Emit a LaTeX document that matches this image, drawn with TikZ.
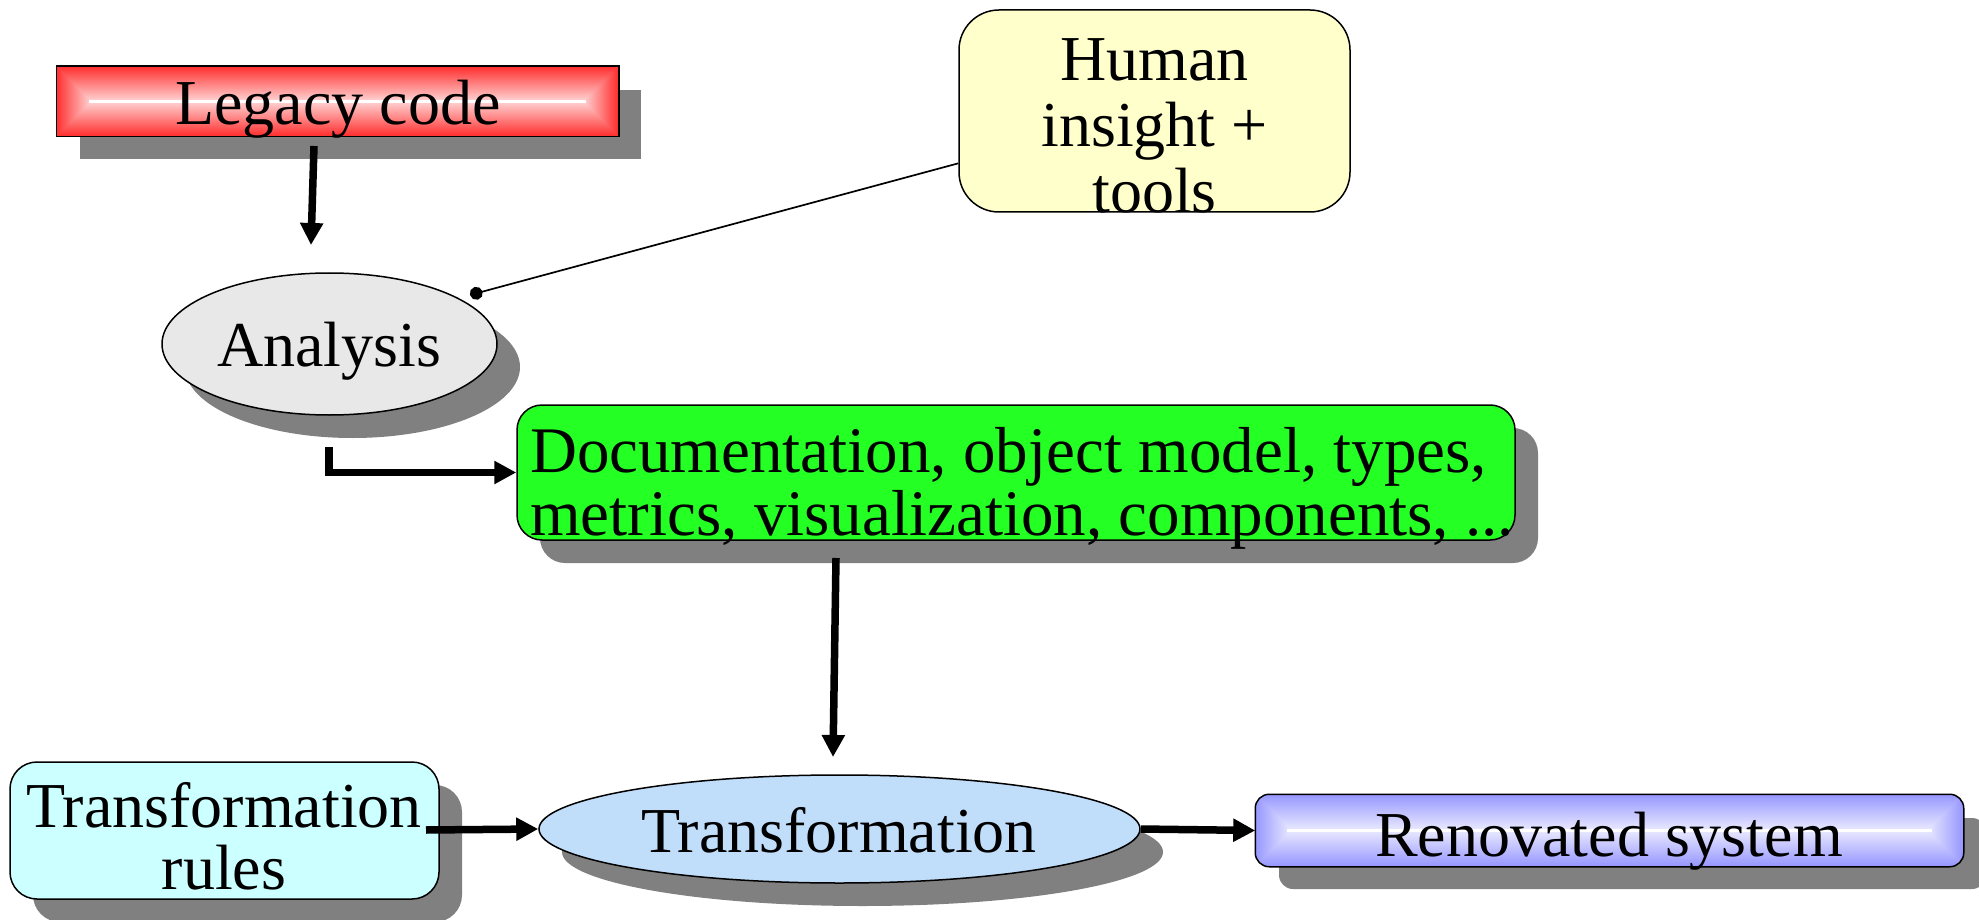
\documentclass[tikz,border=0pt]{standalone}
\usepackage{fontspec}
\setmainfont{Liberation Serif}
\usetikzlibrary{arrows.meta,calc,shapes.geometric,shadows}
\definecolor{legred}{RGB}{255,45,45}
\definecolor{renblue}{RGB}{150,150,255}
\definecolor{docgreen}{RGB}{36,255,36}
\definecolor{rulecyan}{RGB}{204,255,255}
\definecolor{humyellow}{RGB}{255,255,204}
\definecolor{anagray}{RGB}{232,232,232}
\definecolor{trblue}{RGB}{192,221,250}
\definecolor{shadowgray}{RGB}{128,128,128}
\begin{document}
\begin{tikzpicture}[x=1pt,y=-1pt,
  txt/.style={font=\fontsize{64}{66}\selectfont, text=black, inner sep=0pt, anchor=base},
  box/.style={draw=black, line width=1.5pt, inner sep=0pt},
  shad/.style={drop shadow={shadow xshift=23pt,shadow yshift=-23pt,fill=shadowgray,opacity=1}},
  arr/.style={line width=7.5pt, -{Triangle[length=22pt,width=22pt]}},
  thinlink/.style={line width=1.7pt, -{Circle[length=13pt]}},
]
\useasboundingbox (0,0) rectangle (1979,920);

% Legacy code
\node[box, shad, fill=legred, minimum width=561pt, minimum height=69pt] (legacy) at (337.5,101.5) {};
\foreach \i in {1,...,33} {
  \pgfmathsetmacro\p{100-75*\i/33}
  \fill[legred!\p!white] ($(legacy.north west)+(\i,\i)$) rectangle ($(legacy.south east)+(-\i,-\i)$);
}
\fill[white] ($(legacy.west)+(33,-1.5)$) rectangle ($(legacy.east)+(-33,1.5)$);
\draw[line width=1.5pt] (legacy.north west) rectangle (legacy.south east);
\node[txt] (legacyT) at (338,125) {Legacy code};

% Human insight
\node[box, fill=humyellow, rounded corners=40pt, minimum width=391pt, minimum height=202pt] (human) at (1154.5,111) {};
\node[txt] (hum1) at (1154.5,81) {Human};
\node[txt] (hum2) at (1154.5,147) {insight +};
\node[txt] (hum3) at (1154.5,213) {tools};

% Analysis
\node[box, shad, ellipse, fill=anagray, minimum width=335pt, minimum height=142pt] (analysis) at (329.5,344) {};
\node[txt] (analysisT) at (329,366) {Analysis};

% Documentation
\node[box, shad, fill=docgreen, rounded corners=25pt, minimum width=998pt, minimum height=135pt] (docs) at (1016,472.5) {};
\node[txt, anchor=base west, font=\fontsize{65}{66}\selectfont] (docs1) at (530,472) {Documentation, object model, types,};
\node[txt, anchor=base west, font=\fontsize{65}{66}\selectfont] (docs2) at (530,535) {metrics, visualization, components, ...};

% Transformation rules
\node[box, shad, fill=rulecyan, rounded corners=27pt, minimum width=429pt, minimum height=137pt] (trules) at (224.5,830.5) {};
\node[txt] (trules1) at (224,827) {Transformation};
\node[txt] (trules2) at (224,889) {rules};

% Transformation
\node[box, shad, ellipse, fill=trblue, minimum width=601pt, minimum height=108pt] (transf) at (839.5,829) {};
\node[txt] (transfT) at (839,852) {Transformation};

% Renovated system
\node[box, shad, fill=renblue, rounded corners=14pt, minimum width=707pt, minimum height=71pt] (renov) at (1609.5,830.5) {};
\begin{scope}
\clip[rounded corners=14pt] (renov.north west) rectangle (renov.south east);
\foreach \i in {1,...,34} {
  \pgfmathsetmacro\p{100-75*\i/34}
  \fill[renblue!\p!white] ($(renov.north west)+(\i,\i)$) rectangle ($(renov.south east)+(-\i,-\i)$);
}
\fill[white] ($(renov.west)+(32,-1.5)$) rectangle ($(renov.east)+(-32,1.5)$);
\end{scope}
\draw[line width=1.5pt, rounded corners=14pt] (renov.north west) rectangle (renov.south east);
\node[txt] (renovT) at (1609,856) {Renovated system};

% connectors
\coordinate (la) at (314,146);
\coordinate (lb) at (311,245);
\draw[arr] (la) -- (lb);
\coordinate (aa) at (329,447);
\draw[arr] (aa) |- (docs.west);
\coordinate (da) at (836,558);
\coordinate (db) at (833,757);
\draw[arr] (da) -- (db);
\coordinate (ra) at (426,830);
\draw[arr] (ra) -- (transf.west);
\draw[arr] (transf.east) -- (renov.west);
\coordinate (hd) at (470,295);
\draw[thinlink] (human) -- (hd);
\end{tikzpicture}
\end{document}
